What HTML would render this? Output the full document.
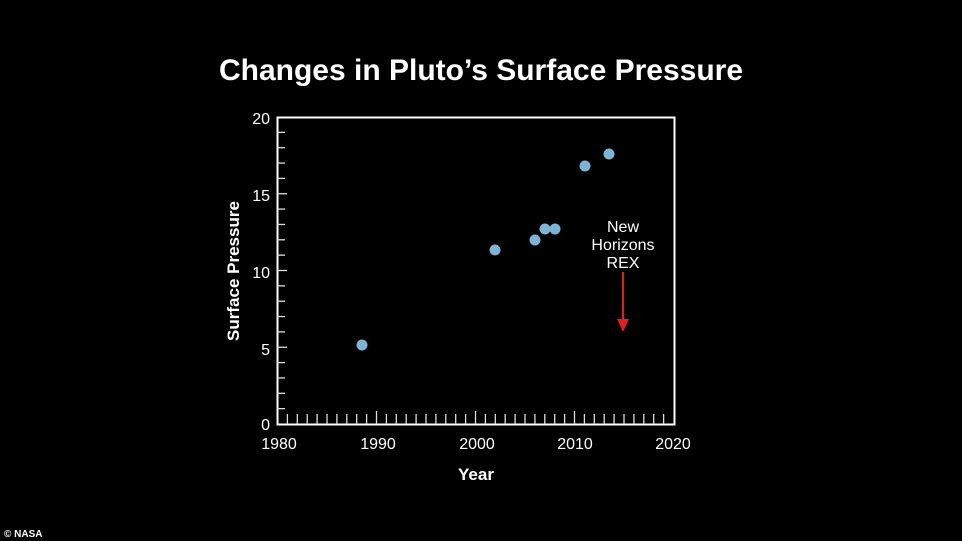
<!DOCTYPE html>
<html><head><style>
body{margin:0;background:#000;width:962px;height:541px;overflow:hidden}
svg{display:block}
text{font-family:"Liberation Sans",sans-serif;fill:#fff}
</style></head><body>
<svg width="962" height="541" viewBox="0 0 962 541">
<rect width="962" height="541" fill="#000"/>
<text x="481" y="80" font-size="30" font-weight="bold" text-anchor="middle">Changes in Pluto’s Surface Pressure</text>
<rect x="277.5" y="117.5" width="397" height="307" fill="none" stroke="#fff" stroke-width="2"/>
<g stroke="#ddd" stroke-width="1.3" id="t"></g>
<g font-size="16" text-anchor="end">
<text x="270" y="124">20</text><text x="270" y="201">15</text><text x="270" y="278">10</text><text x="270" y="355">5</text><text x="270" y="430">0</text>
</g>
<g font-size="16" text-anchor="middle">
<text x="279" y="449">1980</text><text x="378" y="449">1990</text><text x="477" y="449">2000</text><text x="575" y="449">2010</text><text x="673" y="449">2020</text>
</g>
<text x="476" y="480" font-size="17" font-weight="bold" text-anchor="middle">Year</text>
<text transform="translate(239,271) rotate(-90)" font-size="17" font-weight="bold" text-anchor="middle">Surface Pressure</text>
<g fill="#7fb3d5">
<circle cx="362" cy="345" r="5.5"/><circle cx="495" cy="250" r="5.5"/><circle cx="535" cy="240" r="5.5"/>
<circle cx="545" cy="229" r="5.5"/><circle cx="555" cy="229" r="5.5"/><circle cx="585" cy="166" r="5.5"/><circle cx="609" cy="154" r="5.5"/>
</g>
<g font-size="16" text-anchor="middle">
<text x="623" y="232">New</text><text x="623" y="250">Horizons</text><text x="623" y="268">REX</text>
</g>
<line x1="623" y1="272" x2="623" y2="322" stroke="#e02020" stroke-width="2"/>
<polygon points="617,319 629,319 623,332" fill="#e02020"/>
<text x="4" y="537" font-size="10" font-weight="bold">© NASA</text>
</svg>
<script>
var g=document.getElementById('t'),s='';
for(var i=1;i<20;i++){var y=424-i*15.35;s+='<line x1="277" x2="'+(i%5?285:287)+'" y1="'+y+'" y2="'+y+'"/>';}
for(var j=1;j<40;j++){var x=277.5+j*9.9;s+='<line x1="'+x+'" x2="'+x+'" y1="424" y2="'+(j%10?414:411)+'"/>';}
g.innerHTML=s;
</script>
</body></html>
